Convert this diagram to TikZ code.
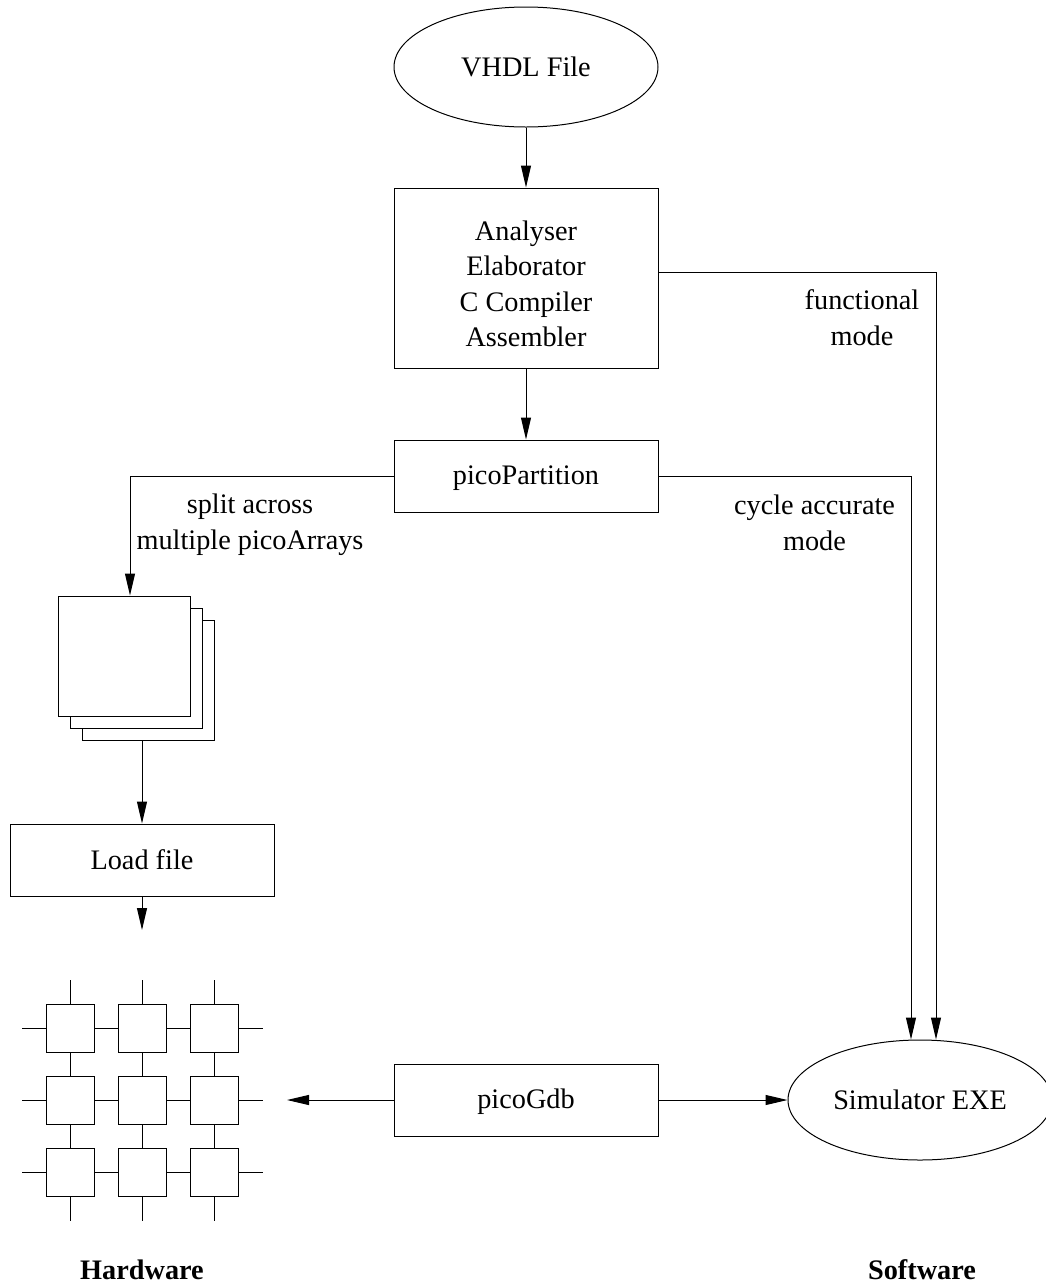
\documentclass[tikz,border=0pt]{standalone}
\usepackage{fontspec}
\setmainfont{Liberation Serif}
\usetikzlibrary{arrows.meta,shapes.geometric,calc}
\begin{document}
\begin{tikzpicture}[x=0.75pt,y=-0.75pt,
  every node/.style={font=\fontsize{21.2}{26.7}\selectfont},
  box/.style={draw,line width=0.75pt,rectangle,minimum width=198pt,inner sep=0pt,align=center,fill=white},
  oval/.style={draw,line width=0.75pt,ellipse,minimum width=198pt,minimum height=90pt,inner sep=0pt},
  sheet/.style={draw,line width=0.75pt,rectangle,minimum width=99pt,minimum height=90pt,inner sep=0pt,fill=white},
  cell/.style={draw,line width=0.75pt,rectangle,minimum size=36pt,inner sep=0pt},
  lbl/.style={align=center,inner sep=0pt},
  ttl/.style={font=\fontsize{21.2}{26.7}\selectfont\bfseries,inner sep=0pt},
  wire/.style={line width=0.75pt},
  arr/.style={line width=0.75pt,-{Triangle[width=7.5pt,length=16.5pt]}}
]
\fill[white] (0,0) rectangle (1046,1286);
\useasboundingbox (0,0) rectangle (1046,1286);

% main nodes
\node[oval] (vhdl) at (526,67) {VHDL File};
\node[box,minimum height=135pt] (an) at (526,278) {\rule{0pt}{23.5pt}Analyser\\Elaborator\\C Compiler\\Assembler};
\node[box,minimum height=54pt,text height=15pt,text depth=3pt] (pp) at (526,476) {picoPartition};
\node[box,minimum height=54pt,text height=15pt,text depth=3pt] (gdb) at (526,1100) {picoGdb};
\node[oval] (sim) at (920,1100) {Simulator EXE};

% stacked sheets
\node[sheet] (s3) at (148,680) {};
\node[sheet] (s2) at (136,668) {};
\node[sheet] (s1) at (124,656) {};

\node[box,minimum height=54pt] (lf) at (142,860) {Load file};

% grid of processors
\foreach \i/\x in {1/70,2/142,3/214}{
  \foreach \j/\y in {1/1028,2/1100,3/1172}{
    \node[cell] (g\i\j) at (\x,\y) {};
  }
}
\foreach \j in {1,2,3}{
  \draw[wire] (g1\j.west) -- ++(-24,0);
  \draw[wire] (g1\j.east) -- (g2\j.west);
  \draw[wire] (g2\j.east) -- (g3\j.west);
  \draw[wire] (g3\j.east) -- ++(24,0);
}
\foreach \i in {1,2,3}{
  \draw[wire] (g\i1.north) -- ++(0,-24);
  \draw[wire] (g\i1.south) -- (g\i2.north);
  \draw[wire] (g\i2.south) -- (g\i3.north);
  \draw[wire] (g\i3.south) -- ++(0,24);
}

% connectors
\draw[arr] (vhdl) -- (an);
\draw[arr] (an) -- (pp);
\draw[arr] (pp.west) -| ([xshift=4.5pt]s1.north);
\draw[arr] (lf.north |- s3.south) -- (lf.north);
\coordinate (lfend) at (142,930);
\draw[arr] (lf.south) -- (lfend);
\draw[arr] (pp.east) -| ([xshift=-6.75pt]sim.north);
\draw[arr] ([yshift=4.5pt]an.east) -| ([xshift=12pt]sim.north);
\coordinate (hwin) at (287,1100);
\draw[arr] (gdb.west) -- (hwin);
\draw[arr] (gdb.east) -- (sim.west);

% labels (base anchor = baseline of the last line)
\node[lbl,anchor=base] (fm) at (862,345) {functional\\mode};
\node[lbl,anchor=base] (ca) at (814.5,550) {cycle accurate\\mode};
\node[lbl,anchor=base] (sa) at (250,549) {split across\\multiple picoArrays};

\node[ttl,anchor=base] (hw) at (142,1279) {Hardware};
\node[ttl,anchor=base] (sw) at (922,1279) {Software};
\end{tikzpicture}
\end{document}
